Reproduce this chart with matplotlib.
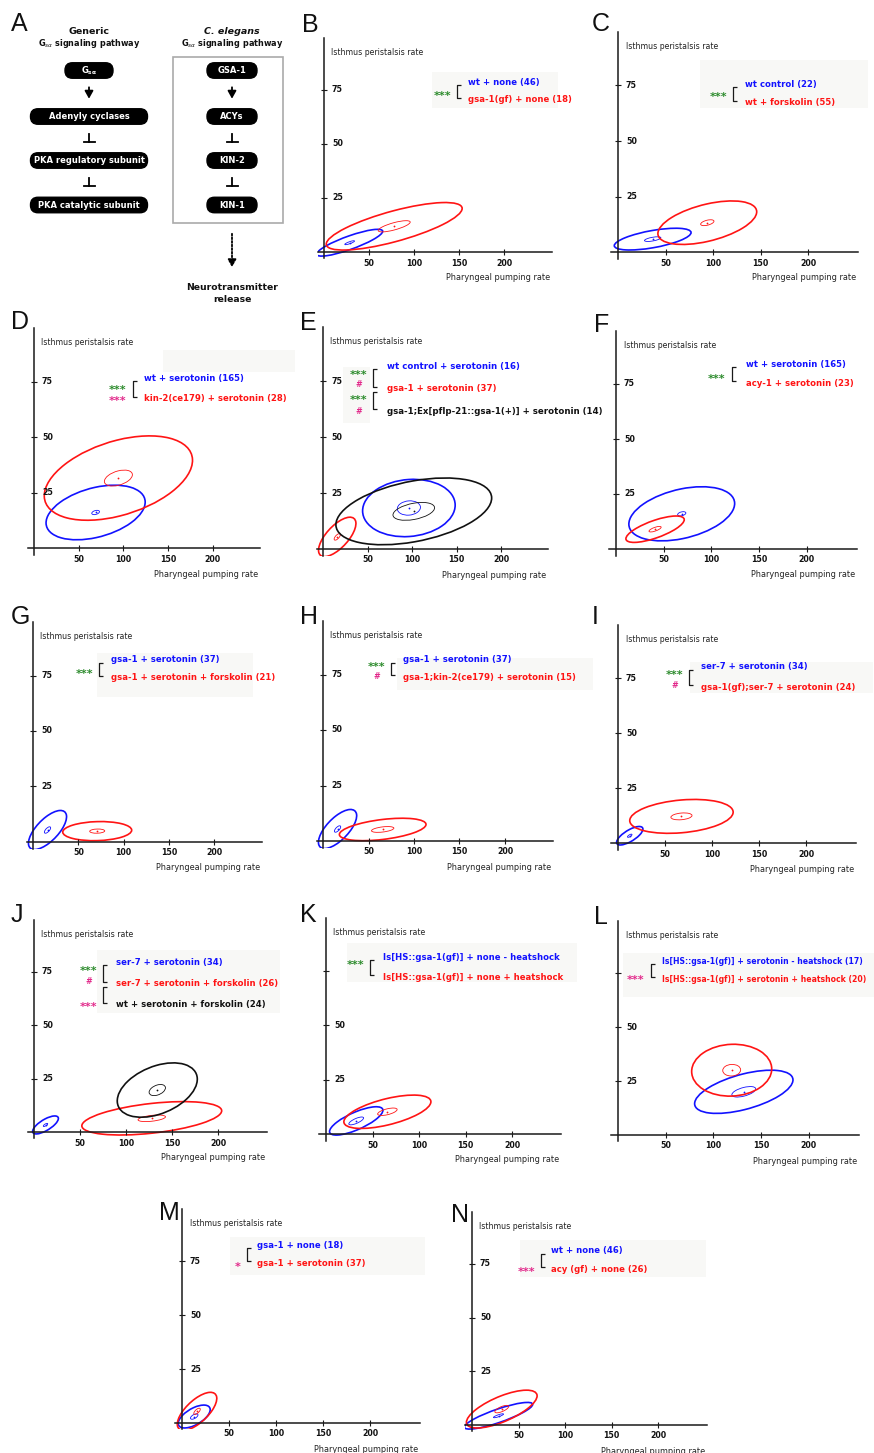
import numpy as np
import matplotlib
matplotlib.use('Agg')
import matplotlib.pyplot as plt
from matplotlib.patches import Ellipse, FancyBboxPatch, Rectangle

W, H = 874, 1453

# ---------------- data ----------------
x_ticks = [50, 100, 150, 200]
y_ticks = [25, 50, 75]
x_title = 'Pharyngeal pumping rate'
y_title = 'Isthmus peristalsis rate'

series_panel = ['B', 'B', 'C', 'C', 'D', 'D', 'E', 'E', 'E', 'F', 'F', 'G', 'G', 'H', 'H',
                'I', 'I', 'J', 'J', 'J', 'K', 'K', 'L', 'L', 'M', 'M', 'N', 'N']
series_label = ['wt + none (46)', 'gsa-1(gf) + none (18)',
                'wt control (22)', 'wt + forskolin (55)',
                'wt + serotonin (165)', 'kin-2(ce179) + serotonin (28)',
                'wt control + serotonin (16)', 'gsa-1 + serotonin (37)',
                'gsa-1;Ex[pflp-21::gsa-1(+)] + serotonin (14)',
                'wt + serotonin (165)', 'acy-1 + serotonin (23)',
                'gsa-1 + serotonin (37)', 'gsa-1 + serotonin + forskolin (21)',
                'gsa-1 + serotonin (37)', 'gsa-1;kin-2(ce179) + serotonin (15)',
                'ser-7 + serotonin (34)', 'gsa-1(gf);ser-7 + serotonin (24)',
                'ser-7 + serotonin (34)', 'ser-7 + serotonin + forskolin (26)',
                'wt + serotonin + forskolin (24)',
                'Is[HS::gsa-1(gf)] + none - heatshock', 'Is[HS::gsa-1(gf)] + none + heatshock',
                'Is[HS::gsa-1(gf)] + serotonin - heatshock (17)',
                'Is[HS::gsa-1(gf)] + serotonin + heatshock (20)',
                'gsa-1 + none (18)', 'gsa-1 + serotonin (37)',
                'wt + none (46)', 'acy (gf) + none (26)']
series_group = ['blue', 'red', 'blue', 'red', 'blue', 'red', 'blue', 'red', 'black',
                'blue', 'red', 'blue', 'red', 'blue', 'red', 'blue', 'red',
                'blue', 'red', 'black', 'blue', 'red', 'blue', 'red', 'blue', 'red', 'blue', 'red']
mean_pump = [28.5, 78, 36.5, 94, 69, 94.5, 96.5, 16, 102, 69, 41, 16, 70.8, 16, 65.6,
             12.5, 67.5, 12.5, 128, 134, 32.5, 66, 132, 119.3, 13, 16, 28.5, 32]
mean_isth = [4.3, 11.9, 5.8, 13.2, 16.0, 31.5, 18.3, 5.4, 16.8, 16.0, 9.0, 5.4, 4.9, 5.4, 5.2,
             3.3, 12.1, 3.3, 6.4, 19.6, 6.0, 10.2, 20.0, 30.0, 3.0, 5.4, 4.3, 7.4]
spread_pump = [36.7, 75.5, 40.4, 52, 55.5, 83, 52, 21, 87.5, 55.5, 30.6, 21, 38, 21, 47.6,
               14, 55, 14, 76, 43.5, 28.7, 46.8, 51.6, 42, 17, 21, 36.7, 38]
spread_isth = [6.2, 11.0, 4.9, 9.8, 12.3, 19, 12.8, 8.8, 14.9, 12.3, 6.0, 8.8, 4.3, 8.8, 5.05,
               4.2, 7.7, 4.2, 7.8, 12.7, 6.5, 7.65, 10, 12, 5.3, 8.8, 6.2, 8.8]
corr = [0.85, 0.75, 0.60, 0.50, 0.38, 0.42, 0.10, 0.68, 0.40, 0.38, 0.72, 0.68, 0.10, 0.68, 0.45,
        0.72, 0.25, 0.72, 0.45, 0.40, 0.75, 0.60, 0.55, 0.05, 0.60, 0.68, 0.85, 0.70]
n_animals = [46, 18, 22, 55, 165, 28, 16, 37, 14, 165, 23, 37, 21, 37, 15,
             34, 24, 34, 26, 24, 13, 20, 17, 20, 18, 37, 46, 26]

# comparisons: (panel, upper series line, lower series line, marks)
comparisons = [
    ('B', 0, 1, [('***', 'green')]),
    ('C', 0, 1, [('***', 'green')]),
    ('D', 0, 1, [('***', 'green'), ('***', 'magenta')]),
    ('E', 0, 1, [('***', 'green'), ('#', 'magenta')]),
    ('E', 1, 2, [('***', 'green'), ('#', 'magenta')]),
    ('F', 0, 1, [('***', 'green')]),
    ('G', 0, 1, [('***', 'green')]),
    ('H', 0, 1, [('***', 'green'), ('#', 'magenta')]),
    ('I', 0, 1, [('***', 'green'), ('#', 'magenta')]),
    ('J', 0, 1, [('***', 'green'), ('#', 'magenta')]),
    ('J', 1, 2, [('***', 'magenta')]),
    ('K', 0, 1, [('***', 'green')]),
    ('L', 0, 1, [('***', 'magenta')]),
    ('M', 0, 1, [('*', 'magenta')]),
    ('N', 0, 1, [('***', 'magenta')]),
]
hidden_y_labels = {'K': [75], 'L': [75]}

# panel A pathway
generic_steps = [r'$\mathbf{G_{s\alpha}}$', 'Adenyly cyclases', 'PKA regulatory subunit',
                 'PKA catalytic subunit']
elegans_steps = ['GSA-1', 'ACYs', 'KIN-2', 'KIN-1']
step_links = ['activates', 'inhibits', 'inhibits']

# ---------------- styles / layout ----------------
colors = {'blue': '#1212ff', 'red': '#ff1414', 'black': '#111111',
          'green': '#2a8a2a', 'magenta': '#e2288a'}

# letter: (origin x px, origin y px, px per x unit, px per y unit,
#          legend text x, first line y, line gap, bracket x, mark centre x, font size)
layout = {
    'B': (324, 252, 0.90, 2.16, 468, 82, 18, 457, 443, 6.1),
    'C': (618, 252, 0.95, 2.22, 745, 84, 19, 733, 719, 6.1),
    'D': (34, 548, 0.893, 2.22, 144, 378, 21, 133, 118, 6.1),
    'E': (323, 549, 0.89, 2.24, 387, 366, 22.5, 373, 359, 6.2),
    'F': (616, 549, 0.953, 2.20, 746, 364, 19, 732, 717, 6.1),
    'G': (33, 842, 0.907, 2.22, 111, 660, 18, 99, 85, 6.1),
    'H': (323, 841, 0.91, 2.22, 403, 660, 17, 391, 377, 6.1),
    'I': (618, 843, 0.94, 2.20, 701, 667, 20, 689, 675, 6.1),
    'J': (34, 1132, 0.92, 2.14, 116, 962, 21.5, 103, 89, 6.1),
    'K': (326, 1134, 0.93, 2.18, 383, 957, 20, 370, 356, 6.1),
    'L': (618, 1135, 0.953, 2.16, 662, 961, 18, 651, 636, 5.6),
    'M': (182, 1423, 0.94, 2.16, 257, 1245, 18, 247, 238, 6.1),
    'N': (472, 1425, 0.93, 2.15, 551, 1251, 18, 541, 527, 6.1),
}
mark_y = [[93], [94], [387, 398], [372, 384], [397, 411], [376], [671], [664, 676],
          [672, 685], [968, 981], [1004], [962], [977], [1264], [1269]]
letter_pos = {'A': (11, 12), 'B': (302, 13), 'C': (592, 12), 'D': (11, 310), 'E': (300, 311),
              'F': (594, 313), 'G': (11, 605), 'H': (300, 605), 'I': (592, 605),
              'J': (11, 903), 'K': (300, 903), 'L': (594, 905), 'M': (159, 1201), 'N': (451, 1203)}
faint_boxes = [(432, 72, 558, 108), (700, 60, 868, 108), (163, 350, 295, 372), (343, 367, 370, 423),
               (97, 653, 253, 697), (397, 658, 593, 690), (690, 662, 873, 693), (97, 950, 280, 1013),
               (347, 943, 577, 982), (623, 953, 874, 997), (230, 1237, 425, 1275), (520, 1240, 706, 1277)]

XMIN, XMAX, YMIN, YMAX = -7, 253, -3, 99

plt.rcParams['font.family'] = ['DejaVu Sans']
fig = plt.figure(figsize=(W / 100, H / 100), dpi=100)

bg = fig.add_axes([0, 0, 1, 1], zorder=0)
bg.set_xlim(0, W); bg.set_ylim(H, 0); bg.axis('off')
for (x0, y0, x1, y1) in faint_boxes:
    bg.add_patch(Rectangle((x0, y0), x1 - x0, y1 - y0, facecolor='#f8f8f6', edgecolor='none'))

fg = fig.add_axes([0, 0, 1, 1], zorder=5)
fg.set_xlim(0, W); fg.set_ylim(H, 0); fg.axis('off'); fg.patch.set_alpha(0)


def cov_ellipse(cx, cy, sxv, syv, r, scale, **kw):
    C = np.array([[sxv ** 2, r * sxv * syv], [r * sxv * syv, syv ** 2]]) * scale ** 2
    vals, vecs = np.linalg.eigh(C)
    order = vals.argsort()[::-1]
    vals, vecs = vals[order], vecs[:, order]
    ang = np.degrees(np.arctan2(vecs[1, 0], vecs[0, 0]))
    return Ellipse((cx, cy), 2 * np.sqrt(vals[0]), 2 * np.sqrt(vals[1]), angle=ang,
                   fill=False, **kw)


axes = {}
for letter, (ox, oy, sx, sy, tx, ty0, gap, bx, mcx, fs) in layout.items():
    left = (ox + XMIN * sx) / W
    width = (XMAX - XMIN) * sx / W
    bottom = 1 - (oy - YMIN * sy) / H
    height = (YMAX - YMIN) * sy / H
    ax = fig.add_axes([left, bottom, width, height], zorder=2)
    ax.patch.set_alpha(0)
    ax.set_xlim(XMIN, XMAX); ax.set_ylim(YMIN, YMAX)
    for s in ['top', 'right']:
        ax.spines[s].set_visible(False)
    ax.spines['left'].set_position(('data', 0))
    ax.spines['bottom'].set_position(('data', 0))
    for s in ['left', 'bottom']:
        ax.spines[s].set_linewidth(1.1)
        ax.spines[s].set_color('#1a1a1a')
    ax.set_xticks(x_ticks); ax.set_yticks(y_ticks)
    ax.tick_params(direction='inout', length=4.5, width=0.8, color='#1a1a1a',
                   labelleft=False, labelbottom=False)
    for v in x_ticks:
        ax.annotate(str(v), xy=(v, 0), xytext=(0, -11), textcoords='offset pixels',
                    ha='center', va='center', fontsize=5.7, fontweight='bold', color='#111')
    for v in y_ticks:
        if v in hidden_y_labels.get(letter, []):
            continue
        ax.annotate(str(v), xy=(0, v), xytext=(8, 0), textcoords='offset pixels',
                    ha='left', va='center', fontsize=5.7, fontweight='bold', color='#111')
    ax.text(8, 92.5, y_title, ha='left', va='center', fontsize=5.6, color='#222')
    ax.annotate(x_title, xy=(XMAX, 0), xytext=(-2, -26), textcoords='offset pixels',
                ha='right', va='center', fontsize=5.9, color='#222')
    axes[letter] = ax

# ellipses and legend text
line_y = {}
count = {}
for i, p in enumerate(series_panel):
    ax = axes[p]
    c = colors[series_group[i]]
    k = count.get(p, 0)
    count[p] = k + 1
    ax.add_patch(cov_ellipse(mean_pump[i], mean_isth[i], spread_pump[i], spread_isth[i], corr[i],
                             1.0, edgecolor=c, linewidth=1.2))
    ax.add_patch(cov_ellipse(mean_pump[i], mean_isth[i], spread_pump[i], spread_isth[i], corr[i],
                             1 / np.sqrt(n_animals[i]), edgecolor=c, linewidth=0.6))
    ax.plot([mean_pump[i]], [mean_isth[i]], 'o', color=c, markersize=1.3, markeredgewidth=0)
    ox, oy, sx, sy, tx, ty0, gap, bx, mcx, fs = layout[p]
    yy = ty0 + k * gap
    line_y[(p, k)] = yy
    fg.text(tx, yy, series_label[i], ha='left', va='center', fontsize=fs,
            fontweight='bold', color=c)

for (p, a, b, marks), ys in zip(comparisons, mark_y):
    ox, oy, sx, sy, tx, ty0, gap, bx, mcx, fs = layout[p]
    ya = line_y[(p, a)] + 3
    yb = line_y[(p, b)] - 2
    fg.plot([bx + 4, bx, bx, bx + 4], [ya, ya, yb, yb], color='#1a1a1a', lw=0.9,
            solid_capstyle='butt')
    for (txt, col), y in zip(marks, ys):
        off = 2.8 if '*' in txt else 0.8
        fg.text(mcx, y + off, txt, ha='center', va='center', fontsize=8.0 if '*' in txt else 5.8,
                fontweight='bold', color=colors[col])

# panel letters
for L, (x, y) in letter_pos.items():
    fg.text(x, y, L, ha='left', va='top', fontsize=18, family=['Liberation Sans', 'DejaVu Sans'],
            color='#111')

# ---------------- panel A ----------------
gen_x, ele_x = 89, 232
row_y = [70.5, 116.5, 160.5, 205]
pill_h = 15.5
gen_w = [48, 117, 117, 117]
ele_w = [50, 50, 50, 50]


def pill(xc, yc, w, txt):
    fg.add_patch(FancyBboxPatch((xc - w / 2, yc - pill_h / 2), w, pill_h,
                                boxstyle='round,pad=0,rounding_size=7.5',
                                facecolor='black', edgecolor='black'))
    fg.text(xc, yc, txt, ha='center', va='center', color='white', fontsize=6.0,
            fontweight='bold')


for xc, steps, widths in [(gen_x, generic_steps, gen_w), (ele_x, elegans_steps, ele_w)]:
    for k, (s, w) in enumerate(zip(steps, widths)):
        pill(xc, row_y[k], w, s)
    for k, link in enumerate(step_links):
        top = row_y[k] + pill_h / 2
        bot = row_y[k + 1] - pill_h / 2
        mid = (top + bot) / 2
        if link == 'activates':
            fg.annotate('', xy=(xc, mid + 8), xytext=(xc, mid - 9),
                        arrowprops=dict(arrowstyle='-|>,head_width=0.25,head_length=0.45',
                                        color='black', lw=1.3))
        else:
            fg.plot([xc, xc], [mid - 4.5, mid + 3], color='black', lw=1.3)
            fg.plot([xc - 5.5, xc + 5.5], [mid + 3, mid + 3], color='black', lw=1.3)

fg.add_patch(Rectangle((173, 57), 110, 166, fill=False, edgecolor='#aaaaaa', lw=1.2))
fg.annotate('', xy=(ele_x, 270), xytext=(ele_x, 231),
            arrowprops=dict(arrowstyle='-|>,head_width=0.25,head_length=0.45',
                            color='black', lw=1.3, linestyle=(0, (1, 1))))

fg.text(gen_x, 32, 'Generic', ha='center', va='center', fontsize=6.8, fontweight='bold', color='#111')
fg.text(gen_x, 43, r'G$_{s\alpha}$ signaling pathway', ha='center', va='center', fontsize=5.9,
        fontweight='bold', color='#111')
fg.text(ele_x, 32, 'C. elegans', ha='center', va='center', fontsize=6.8, fontweight='bold',
        style='italic', color='#111')
fg.text(ele_x, 43, r'G$_{s\alpha}$ signaling pathway', ha='center', va='center', fontsize=5.9,
        fontweight='bold', color='#111')
fg.text(ele_x, 287, 'Neurotransmitter', ha='center', va='center', fontsize=6.7, fontweight='bold',
        color='#111')
fg.text(ele_x, 299, 'release', ha='center', va='center', fontsize=6.7, fontweight='bold',
        color='#111')

fig.savefig('out.png', dpi=100, facecolor='white')
